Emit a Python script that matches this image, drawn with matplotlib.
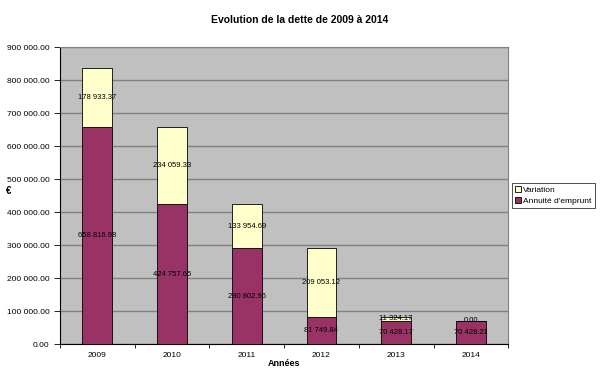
import numpy as np
import matplotlib.pyplot as plt
from matplotlib.ticker import FuncFormatter, FixedLocator

# Data
years = ['2009', '2010', '2011', '2012', '2013', '2014']
annuite = [658816.98, 424757.65, 290802.96, 81749.84, 70428.17, 70428.21]
variation = [178933.37, 234059.33, 133954.69, 209053.12, 11324.17, 0.00]


def fmt(v):
    return f"{v:,.2f}".replace(',', ' ')


plt.rcParams.update({'font.family': 'Liberation Sans', 'font.size': 6})

fig = plt.figure(figsize=(6.0, 3.74), dpi=100)
ax = fig.add_axes([0.1, 0.080, 0.747, 0.794])
ax.set_facecolor('#C0C0C0')

x = np.arange(len(years))
w = 0.4
b1 = ax.bar(x, annuite, w, color='#993366', edgecolor='black', linewidth=0.6,
            label="Annuité d'emprunt", zorder=3)
b2 = ax.bar(x, variation, w, bottom=annuite, color='#FFFFCC', edgecolor='black',
            linewidth=0.6, label='Variation', zorder=3)

for i in range(len(years)):
    ax.text(x[i], annuite[i] / 2, fmt(annuite[i]), ha='center', va='center',
            fontsize=5.5, zorder=4)
    ax.text(x[i], annuite[i] + variation[i] / 2, fmt(variation[i]), ha='center',
            va='center', fontsize=5.5, zorder=4)

ax.set_xlim(-0.5, len(years) - 0.5)
ax.set_ylim(0, 900000)
ax.yaxis.set_major_locator(FixedLocator(np.arange(0, 900001, 100000)))
ax.yaxis.set_major_formatter(FuncFormatter(lambda v, p: fmt(v)))
ax.grid(axis='y', color='#808080', linewidth=1.0, zorder=1)
ax.set_axisbelow(True)

ax.set_xticks(x)
ax.set_xticklabels(years)
ax.set_xticks(np.arange(-0.5, len(years)), minor=True)
ax.tick_params(axis='x', which='major', length=0, pad=6, labelsize=6)
ax.tick_params(axis='x', which='minor', length=3, width=0.6, direction='out')
ax.tick_params(axis='y', length=4, width=0.6, direction='out', labelsize=6)

for s in ax.spines.values():
    s.set_color('#808080')
    s.set_linewidth(0.8)
ax.spines['left'].set_color('black')
ax.spines['bottom'].set_color('black')

ax.set_xlabel('Années', fontsize=6.5, fontweight='bold', labelpad=0)
ax.set_ylabel('€', fontsize=7, fontweight='bold', rotation=0, labelpad=0)
ax.yaxis.set_label_coords(-0.115, 0.5)
fig.suptitle('Evolution de la dette de 2009 à 2014', x=0.5, y=0.96,
             fontsize=7.5, fontweight='bold')

leg = ax.legend(handles=[b2, b1], loc='center left', bbox_to_anchor=(1.008, 0.5),
                fontsize=6, frameon=True, fancybox=False, handlelength=0.7,
                handleheight=0.7, handletextpad=0.3, borderpad=0.4,
                labelspacing=0.35, borderaxespad=0)
leg.get_frame().set_edgecolor('black')
leg.get_frame().set_linewidth(0.6)

fig.savefig('out.png', dpi=100)
